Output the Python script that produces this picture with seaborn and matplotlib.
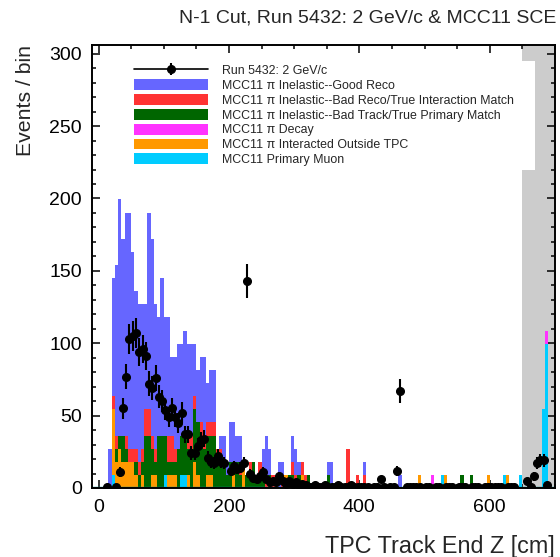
import numpy as np
import pandas as pd
import matplotlib
matplotlib.use("Agg")
import matplotlib.pyplot as plt
import seaborn as sns
from matplotlib.lines import Line2D
from matplotlib.patches import Patch
from matplotlib.legend_handler import HandlerTuple
from matplotlib.ticker import MultipleLocator

# Track end position binning (cm)
z_lo, z_hi, bin_w = -10, 700, 5
edges = np.arange(z_lo, z_hi + bin_w, bin_w)
centers = edges[:-1] + bin_w / 2

# Weight of one simulated event after normalisation to the beam data
mc_scale = 9.06

# Simulated events per bin, dense part: bins with lower edge 10, 15, ..., 325
dense_lo = 10
good_reco = [0, 3, 9, 13, 18, 15, 17, 18, 15, 12, 12, 11, 8, 15, 15, 11, 9, 12, 9, 9,
             6, 7, 8, 7, 8, 7, 7, 4, 4, 5, 6, 3, 4, 4, 0, 1, 2, 1, 3, 3,
             2, 2, 0, 0, 0, 0, 0, 0, 2, 3, 2, 0, 0, 2, 1, 0, 0, 2, 2, 1, 0, 0, 0, 0]
bad_reco = [0, 0, 1, 1, 0, 0, 1, 1, 1, 1, 1, 1, 2, 2, 1, 1, 0, 0, 0, 2,
            2, 1, 0, 0, 0, 1, 1, 1, 0, 1, 1, 1, 1, 1, 1, 1, 0, 0, 0, 0,
            0, 1, 0, 0, 1, 0, 0, 1, 0, 1, 0, 1, 0, 0, 1, 0, 0, 1, 1, 0, 1, 1, 0, 0]
bad_track = [0, 0, 0, 1, 1, 2, 1, 0, 0, 1, 1, 1, 4, 4, 2, 1, 4, 4, 3, 1,
             1, 1, 3, 3, 3, 2, 3, 4, 4, 4, 3, 3, 3, 4, 2, 2, 2, 1, 2, 1,
             2, 1, 0, 1, 1, 2, 1, 1, 1, 0, 1, 0, 0, 0, 0, 0, 1, 1, 0, 1, 0, 0, 1, 0]
pi_decay = [0] * 64
outside_tpc = [0, 0, 5, 2, 3, 2, 2, 2, 2, 1, 0, 1, 0, 0, 1, 1, 0, 0, 0, 1,
               1, 1, 0, 0, 0, 1, 0, 2, 1, 0, 0, 1, 1, 0, 0, 0, 0, 0, 0, 1,
               0, 0, 2, 0, 0, 0, 0, 0, 0, 0, 0, 0, 1, 0, 0, 1, 0, 0, 0, 0, 1, 0, 0, 0]
primary_muon = [0, 0, 1, 0, 0, 0, 0, 0, 0, 0, 0, 0, 0, 0, 0, 0, 0, 0, 1, 0,
                0, 0, 0, 1, 1, 0, 0, 0, 0, 0, 0, 0, 0, 0, 0, 0, 0, 0, 0, 0,
                0, 0, 0, 0, 0, 0, 0, 0, 0, 0, 0, 0, 0, 0, 0, 0, 0, 0, 0, 0, 0, 0, 0, 0]

# Sparse tail beyond the dense part: (bin lower edge, simulated events)
good_reco_tail = [(350, 1), (355, 2), (405, 1), (460, 1)]
bad_reco_tail = [(380, 3), (395, 1), (405, 1)]
bad_track_tail = [(350, 1), (555, 1), (570, 1)]
pi_decay_tail = [(510, 1), (685, 1)]
outside_tpc_tail = [(490, 1), (530, 1), (595, 1), (625, 1)]
primary_muon_tail = [(525, 1), (620, 1), (645, 1), (680, 6), (685, 11)]

# Beam data, Run 5432: bins with lower edge 10, 15, ..., 325
data_dense = [1, 0, 0, 1, 11, 55, 77, 103, 105, 107, 94, 96, 91, 72, 69, 76, 63, 60, 54, 49,
              55, 49, 45, 52, 37, 37, 24, 24, 29, 33, 34, 21, 18, 17, 22, 18, 17, 0, 12, 15,
              13, 14, 17, 143, 10, 7, 6, 8, 11, 6, 4, 5, 4, 8, 5, 3, 5, 3, 4, 2, 3, 2, 1, 1]
data_tail = [(330, 2), (335, 1), (340, 1), (345, 2), (350, 1), (355, 1), (360, 1), (365, 2),
             (370, 1), (375, 1), (380, 1), (385, 2), (390, 1), (395, 1), (400, 1), (405, 1),
             (410, 1), (420, 1), (425, 1), (430, 6), (435, 1), (445, 1), (450, 1), (455, 12),
             (460, 67), (470, 1), (475, 1), (480, 1), (485, 1), (490, 1), (500, 1), (505, 1),
             (515, 1), (520, 1), (530, 1), (535, 1), (540, 1), (550, 1), (555, 1), (560, 1),
             (570, 1), (575, 1), (580, 1), (590, 1), (595, 1), (600, 1), (605, 1), (610, 1),
             (615, 1), (625, 1), (630, 1), (635, 1), (655, 5), (660, 1), (665, 8), (670, 17),
             (675, 19), (680, 19), (685, 2)]

categories = [
    "MCC11 \u03c0 Inelastic--Good Reco",
    "MCC11 \u03c0 Inelastic--Bad Reco/True Interaction Match",
    "MCC11 \u03c0 Inelastic--Bad Track/True Primary Match",
    "MCC11 \u03c0 Decay",
    "MCC11 \u03c0 Interacted Outside TPC",
    "MCC11 Primary Muon",
]
palette = ["#6666ff", "#ff3333", "#006600", "#ff33ff", "#ff9900", "#00ccff"]
data_label = "Run 5432: 2 GeV/c"
title = "N-1 Cut, Run 5432: 2 GeV/c & MCC11 SCE"


def full_counts(dense, tail):
    counts = np.zeros(len(centers))
    i0 = int((dense_lo - z_lo) / bin_w)
    counts[i0:i0 + len(dense)] = dense
    for lo, n in tail:
        counts[int((lo - z_lo) / bin_w)] += n
    return counts


series = [
    (good_reco, good_reco_tail), (bad_reco, bad_reco_tail), (bad_track, bad_track_tail),
    (pi_decay, pi_decay_tail), (outside_tpc, outside_tpc_tail), (primary_muon, primary_muon_tail),
]
frames = []
for cat, (dense, tail) in zip(categories, series):
    frames.append(pd.DataFrame({"z": centers, "w": full_counts(dense, tail) * mc_scale, "cat": cat}))
mc = pd.concat(frames, ignore_index=True)

data = full_counts(data_dense, data_tail)

sns.set_theme(style="ticks")
plt.rcParams["font.family"] = ["Liberation Sans", "DejaVu Sans"]

fig = plt.figure(figsize=(5.6, 5.57), dpi=100)
ax = fig.add_axes([92 / 560, 69 / 557, 463 / 560, 443 / 557])

# Excluded region on the far end of the TPC
ax.axvspan(650, 700, color="#cccccc", lw=0, zorder=0.5)

# Stack: first category on top, last at the bottom
sns.histplot(data=mc, x="z", weights="w", hue="cat", hue_order=categories,
             palette=palette, bins=list(edges), multiple="stack", element="step",
             fill=True, alpha=1, linewidth=0, legend=False, ax=ax)
ax.plot([z_lo, z_hi], [0.5, 0.5], color="#009999", lw=1.0, zorder=2.5)

mask = data > 0
ax.errorbar(centers[mask], data[mask], yerr=np.sqrt(data[mask]), fmt="o", color="black",
            ms=5.5, elinewidth=1.5, capsize=0, zorder=3)

ax.set_xlim(z_lo, z_hi)
ax.set_ylim(0, 306)
ax.xaxis.set_major_locator(MultipleLocator(200))
ax.xaxis.set_minor_locator(MultipleLocator(50))
ax.yaxis.set_major_locator(MultipleLocator(50))
ax.yaxis.set_minor_locator(MultipleLocator(10))
ax.tick_params(which="both", direction="in", top=True, right=True, labelsize=14,
               width=1.1, colors="black")
ax.tick_params(which="major", length=6)
ax.tick_params(which="minor", length=3.2)
ax.tick_params(axis="x", which="major", pad=7.9)
ax.tick_params(axis="y", which="major", pad=7.2)
for s in ax.spines.values():
    s.set_linewidth(1.4)
    s.set_color("black")
    s.set_zorder(4)

ax.set_xlabel("TPC Track End Z [cm]", fontsize=16.8, loc="right", labelpad=14)
ax.set_ylabel("Events / bin", fontsize=15.3, loc="top", labelpad=10.5)
fig.text(0.993, 0.967, title, ha="right", va="center", fontsize=14)

handles = [(Line2D([], [], color="black", marker="o", ms=5.5, lw=1.2),
            Line2D([], [], color="black", marker="|", ms=9, mew=1.5, ls="none"))]
handles += [Patch(facecolor=c, edgecolor="none") for c in palette]
leg = ax.legend(handles, [data_label] + categories, loc="upper left",
                bbox_to_anchor=(0.082, 0.3, 0.875, 0.664), mode="expand",
                borderaxespad=0, fontsize=8.9, frameon=True, fancybox=False,
                facecolor="white", edgecolor="none", framealpha=1,
                handlelength=6.05, handleheight=0.95, labelspacing=0.18,
                handletextpad=1.13, borderpad=0.3,
                handler_map={tuple: HandlerTuple(ndivide=1)})
leg.set_zorder(2)

fig.savefig("out.png", dpi=100)
